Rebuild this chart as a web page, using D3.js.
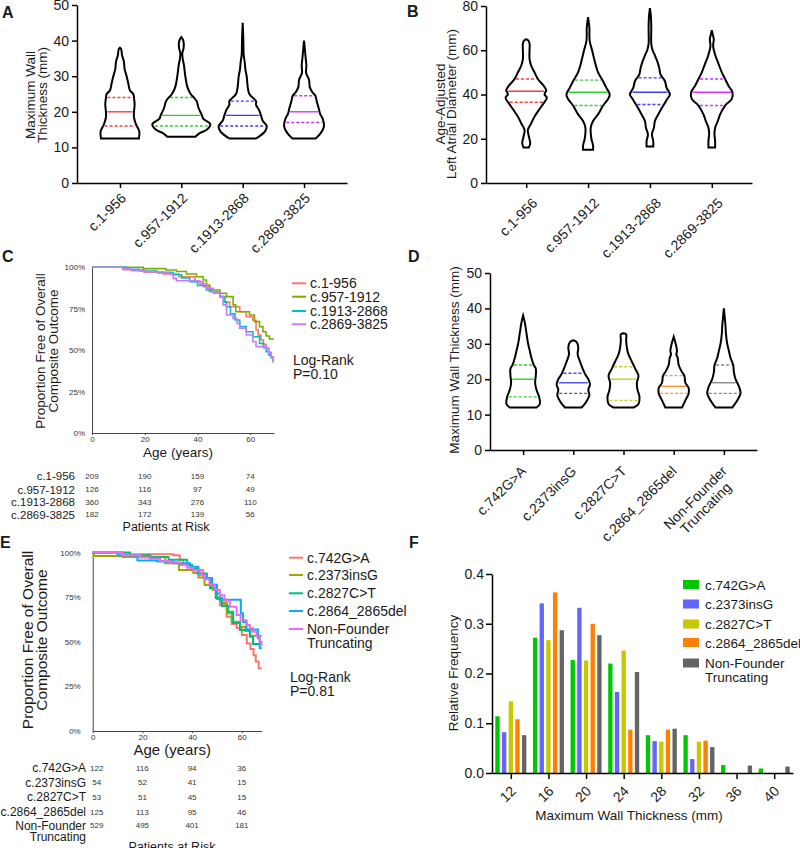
<!DOCTYPE html>
<meta charset="utf-8">
<style>
body { margin: 0; background: #fff; }
svg { display: block; font-family: Arial, "Liberation Sans", Helvetica, sans-serif; }
text { fill: #1a1a1a; }
.axis path, .axis line { stroke: #000; stroke-width: 1.5; }
.axis text { fill: #1a1a1a; }
.km path.domain, .km line { stroke: #444; stroke-width: 1; }
</style>
<body>
<svg width="800" height="848"></svg>
<script src="https://d3js.org/d3.v7.min.js"></script>
<script>

// ---- panels A / B : MYBPC3 region violins ----
var regionLabels = ["c.1-956", "c.957-1912", "c.1913-2868", "c.2869-3825"];
var regionColors = ["#ff3b3b", "#33cc33", "#3b3bff", "#cc33ff"];

// violin outlines: [value, half-width (density units)]
var mwtRegion = [
  [[12.5,57],[14.5,58],[16.5,48],[18.5,42],[20,42],[22,44],[24,42],[25,40],[26,30],[28,25],[30,20],[32,14],[34,12],[36,6],[37.5,4],[38,0]],
  [[13,42],[14,55],[15,77],[16.5,87],[18,66],[19,62],[21,52],[23,46],[24,38],[25,28],[27,18],[30,12],[33,8],[35,4],[36.5,3],[38,7],[40,6],[41,0]],
  [[12.5,40],[14.5,67],[16,72],[17.5,60],[19,55],[20.5,49],[22,40],[23,40],[25,20],[27,15],[30,12],[32,8],[34,6],[36,3],[40,2],[45,0]],
  [[12.5,35],[14,50],[16,60],[18,56],[19.5,48],[21,44],[23,38],[24.5,34],[25.5,25],[27,17],[29,15],[30,10],[31,6],[33,7],[35,5],[37,3],[40,0]]
];
var mwtRegionStats = [[16,20,24],[16,19,24],[16,19,23],[17,20,24.5]]; // q1, median, q3

var ladRegion = [
  [[16,8],[18,12],[21,8],[24,5],[27,15],[30,25],[33,38],[36,52],[38.5,62],[40,55],[42,60],[44,52],[47,35],[50,25],[53,15],[56,10],[60,10],[63,10],[64.5,6],[65,0]],
  [[15,15],[17,15],[20,10],[25,8],[28,15],[31,30],[35,45],[38,60],[40,65],[43,55],[46,45],[50,30],[55,20],[60,12],[64,5],[67,4],[70,4],[75,0]],
  [[16.5,10],[19,10],[22,6],[25,12],[28,15],[31,25],[35,40],[38,52],[40,60],[43,50],[46,45],[49,32],[52,28],[55,22],[58,14],[60,8],[63,4],[70,4],[75,3],[79,0]],
  [[16,10],[19,10],[22,8],[25,10],[28,18],[31,25],[35,40],[38,60],[41,62],[44,50],[47,40],[50,30],[54,20],[58,10],[62,4],[65,6],[67,3],[69,0]]
];
var ladRegionStats = [[36.5,41.5,47],[35,41,46.5],[35.5,41,47.5],[35,41,47]];

// ---- panel D : founder variant violins ----
var founderLabels = ["c.742G>A", "c.2373insG", "c.2827C>T", "c.2864_2865del", "Non-Founder\nTruncating"];
var founderViolinColors = ["#33cc33", "#4d4dff", "#cccc33", "#ff9933", "#888888"];
var mwtFounder = [
  [[12,40],[13,50],[15,48],[17,40],[19,36],[21,38],[23,38],[24,32],[26,25],[28,20],[30,15],[33,10],[36,5],[38,0]],
  [[12,25],[13.5,38],[15.5,48],[17,45],[18.5,50],[20,45],[21.5,35],[23,28],[25,20],[27,13],[29,15],[30.5,10],[31,0]],
  [[12,30],[13,45],[15,48],[17,42],[19,40],[21,45],[23,35],[25,25],[27,15],[29,10],[31,8],[32.7,8],[33,0]],
  [[12,25],[14,35],[16,45],[17.5,45],[19,35],[21,32],[22,25],[24,15],[26,12],[27,8],[28,10],[30,6],[32,0]],
  [[12,25],[14,40],[16,50],[18,45],[20,35],[22,30],[24,28],[26,20],[28,15],[30,10],[33,6],[35,5],[37,3],[40,0]]
];
var mwtFounderStats = [[15,20,24],[16,19,21.7],[14,20,23.5],[16,18,21],[16,19,24]];

// ---- panels C / E : Kaplan-Meier, [age, % event free] ----
var kmRegionColors = ["#f8766d", "#7cae00", "#00bfc4", "#c77cff"];
var kmRegion = [
  [[0,100],[12,98.5],[19.7,97],[27,96],[33,94.3],[39,91.3],[42.2,88.3],[44.5,85.3],[48.5,82.3],[50.5,79],[52.2,76.2],[56,73.2],[58.5,70.2],[61,68],[62.2,62.2],[63,59],[64.1,56.1],[65,53.5],[66,51.1],[67,48.5],[67.9,46],[68.6,43],[69,43]],
  [[0,100],[19.4,99.2],[28,98.4],[32,97.5],[35.8,96],[39.6,94.3],[42.2,92.3],[43.4,89.3],[44.7,86.3],[48.5,84.3],[51,82.3],[53.5,77.3],[54.5,73.2],[59.7,71.2],[61.6,67.2],[63.5,64.2],[64.8,61.1],[66,58.5],[67.3,56.7],[69,56.7]],
  [[0,100],[13,98.8],[18,97.8],[24.5,97],[30.8,95.5],[34,93.5],[37.1,91.3],[40,89],[43.4,86.3],[46,84.5],[48.5,82.3],[50,79],[51,76.2],[52.5,72],[54.2,68.2],[56,64.2],[58.5,61.1],[61,58.1],[63.5,54.1],[65,51.5],[66,49.1],[67,47],[67.9,45.4],[68.5,45.4]],
  [[0,100],[11.5,99],[15,98],[20,97.4],[25,96.5],[29.5,96],[30.8,93.3],[32,91.9],[40.9,90],[43.4,87.3],[46,85],[48.5,82.3],[49.7,77.3],[51,71.2],[53.5,69],[55,66],[56,63.2],[58.5,59.1],[61,55.1],[62.2,52.1],[66,51.1],[67,48.5],[67.9,46],[68.6,44],[69,44]]
];
var kmFounderColors = ["#f8766d", "#a3a500", "#00bf7d", "#00b0f6", "#e76bf3"];
var kmFounder = [
  [[0,100],[12,99],[32.5,98.5],[35,96],[36.5,93],[40,90],[44.5,85.7],[48,80],[50,75],[51.2,70.6],[53.9,64],[56,60],[57.9,57.7],[60,53.8],[62,49],[63.5,46],[64.7,42.5],[65.6,39],[66.8,35.1],[68,35.1]],
  [[0,100],[0.5,98],[12,97.5],[29.2,94],[34.7,90.2],[40.5,88.5],[42.5,86],[45,81.8],[48.4,79],[50,74],[52,71.7],[54,66],[55.9,61.2],[59.3,58.4],[61.5,56],[63.5,53.4],[68,53.4]],
  [[0,100],[15,98.5],[23.2,97.5],[30.5,96],[38,93],[40,91],[42.5,88.3],[45.9,85.7],[47.2,80],[49.5,74.5],[52,70],[54.5,66.8],[56.5,60.5],[59.2,56.6],[63.2,52.8],[64.5,48.7],[68,48.7]],
  [[0,100],[10,98.5],[18,95.5],[26,95],[32.5,94],[39.2,92],[42.5,88],[45.9,85.7],[48,82],[50,77],[51.2,73.5],[59.6,66],[60.5,61],[61.9,56.8],[66.5,52],[67.2,46.5],[68,46.5]],
  [[0,100],[12,98.5],[19.2,97.2],[23,96.5],[27.2,95.3],[31,94.5],[35.2,93],[38,91.5],[40.5,90],[43.2,87.4],[45,85],[47,82],[49,79],[51.2,76],[53,73],[55.2,69.6],[57.9,65],[59.5,62],[61.9,59.4],[63.2,57.5],[64.5,55.6],[66,53],[67.2,50],[67.9,48],[68.3,48]]
];

var riskAges = [0, 20, 40, 60];
var riskRegion = [[209,190,159,74],[126,116,97,49],[360,343,276,110],[182,172,139,56]];
var riskFounder = [[122,116,94,36],[54,52,41,15],[53,51,45,15],[125,113,95,46],[529,495,401,181]];

// ---- panel F : histogram of maximum wall thickness ----
var binCenters = [12, 16, 20, 24, 28, 32, 36, 40];
var histColors = ["#00c800", "#6464ff", "#c8c800", "#ff8000", "#646464"];
var histFreq = [
  [0.114, 0.272, 0.227, 0.220, 0.076, 0.076, 0.016, 0.009],
  [0.082, 0.341, 0.332, 0.163, 0.064, 0.028, 0, 0],
  [0.144, 0.267, 0.226, 0.246, 0.063, 0.063, 0, 0],
  [0.108, 0.363, 0.300, 0.087, 0.087, 0.065, 0, 0],
  [0.076, 0.287, 0.277, 0.203, 0.089, 0.052, 0.015, 0.013]
];

var svg = d3.select("svg");
var wScale = d3.scaleLinear().domain([0, 90]).range([0, 30]);

function widthAt(shape, v) {
  for (var i = 1; i < shape.length; i++) {
    if (v <= shape[i][0]) {
      var a = shape[i - 1], b = shape[i];
      return a[1] + (b[1] - a[1]) * (v - a[0]) / (b[0] - a[0]);
    }
  }
  return 0;
}

function panelLetter(t, x, y) {
  svg.append("text").attr("x", x).attr("y", y).style("font-size", "16px")
    .style("font-weight", "bold").text(t);
}

function rotatedLabel(g, text, x0, y0, size) {
  var lines = text.split("\n");
  var t = g.append("g").attr("transform", "translate(" + x0 + "," + y0 + ") rotate(-45)");
  var first = t.append("text").attr("text-anchor", "end").style("font-size", size + "px").text(lines[0]);
  if (lines.length > 1) {
    var L = first.node().getComputedTextLength();
    t.append("text").attr("text-anchor", "middle").attr("x", -L / 2).attr("y", size * 1.05)
      .style("font-size", size + "px").text(lines[1]);
  }
}

function yTitle(lines, xs, cy, size) {
  lines.forEach(function(l, i) {
    svg.append("text").attr("transform", "translate(" + xs[i] + "," + cy + ") rotate(-90)")
      .attr("text-anchor", "middle").style("font-size", size + "px").text(l);
  });
}

function violinPanel(p) {
  var g = svg.append("g");
  var y = d3.scaleLinear().domain(p.yDomain).range([p.bottom, p.top]);
  var x = d3.scalePoint().domain(p.cats).range([p.left, p.right]).padding(p.pad);

  g.append("g").attr("class", "axis").attr("transform", "translate(" + p.left + ",0)")
    .call(d3.axisLeft(y).tickValues(p.yTicks).tickSize(5).tickSizeOuter(0).tickPadding(3))
    .selectAll("text").style("font-size", "14px");
  g.append("g").attr("class", "axis").attr("transform", "translate(0," + p.bottom + ")")
    .call(d3.axisBottom(x).tickSize(5).tickSizeOuter(0).tickFormat(""));

  p.cats.forEach(function(c) { rotatedLabel(g, c, x(c) + p.labDx, p.bottom + p.labDy, 14); });

  p.shapes.forEach(function(shape, i) {
    var cx = x(p.cats[i]);
    var area = d3.area().curve(d3.curveCatmullRom)
      .y(function(d) { return y(d[0]); })
      .x0(function(d) { return cx - wScale(d[1]); })
      .x1(function(d) { return cx + wScale(d[1]); });
    p.stats[i].forEach(function(v, j) {
      var hw = wScale(widthAt(shape, v)) - 1.5;
      g.append("line").attr("x1", cx - hw).attr("x2", cx + hw)
        .attr("y1", y(v)).attr("y2", y(v))
        .attr("stroke", p.colors[i]).attr("stroke-width", 1.4)
        .attr("stroke-dasharray", j === 1 ? null : "3,2");
    });
    g.append("path").datum(shape).attr("d", area)
      .attr("fill", "none").attr("stroke", "#000").attr("stroke-width", 2);
  });
}

function kmPanel(p) {
  var g = svg.append("g");
  var x = d3.scaleLinear().domain([0, p.xMax]).range([p.left, p.right]);
  var y = d3.scaleLinear().domain([0, 100]).range([p.bottom, p.top]);

  var xa = g.append("g").attr("class", "axis km").attr("transform", "translate(0," + p.bottom + ")")
    .call(d3.axisBottom(x).tickValues(riskAges).tickSize(2).tickSizeOuter(0).tickPadding(1));
  xa.selectAll("text").style("font-size", "8px").style("fill", "#333");
  var ya = g.append("g").attr("class", "axis km").attr("transform", "translate(" + p.left + ",0)")
    .call(d3.axisLeft(y).tickValues([0, 25, 50, 75, 100]).tickSize(0).tickSizeOuter(0)
      .tickPadding(p.yPad).tickFormat(function(d) { return d + "%"; }));
  ya.selectAll("text").style("font-size", "8px").style("fill", "#333");

  var line = d3.line().curve(d3.curveStepAfter)
    .x(function(d) { return x(d[0]); }).y(function(d) { return y(d[1]); });
  p.series.forEach(function(s, i) {
    g.append("path").datum(s).attr("d", line).attr("fill", "none")
      .attr("stroke", p.colors[i]).attr("stroke-width", p.lw);
  });

  g.append("text").attr("x", (p.left + p.right) / 2 - 5).attr("y", p.xTitleY)
    .attr("text-anchor", "middle").style("font-size", p.xTitleSize + "px").text("Age (years)");

  // legend
  p.names.forEach(function(n, i) {
    var ly = p.legendY[i];
    g.append("line").attr("x1", p.legendX).attr("x2", p.legendX + 14).attr("y1", ly).attr("y2", ly)
      .attr("stroke", p.colors[i]).attr("stroke-width", 2);
    var lines = n.split("\n");
    lines.forEach(function(l, k) {
      g.append("text").attr("x", p.legendX + 18).attr("y", ly + 5 + k * 13.5)
        .style("font-size", "14px").text(l);
    });
  });
  g.append("text").attr("x", p.legendX + 1).attr("y", p.logY).style("font-size", "14px").text("Log-Rank");
  g.append("text").attr("x", p.legendX + 1).attr("y", p.logY + 14).style("font-size", "14px").text(p.pText);

  // patients at risk table
  p.names.forEach(function(n, i) {
    var ry = p.riskY[i];
    var lines = n.split("\n");
    lines.forEach(function(l, k) {
      g.append("text").attr("x", p.riskLabelX).attr("y", ry + 4.5 + k * 11.5).attr("text-anchor", "end")
        .style("font-size", p.riskSize + "px").text(l);
    });
    p.risk[i].forEach(function(v, j) {
      g.append("text").attr("x", x(riskAges[j]) + (j === 0 ? p.firstShift : 0)).attr("y", ry + 3)
        .attr("text-anchor", "middle").style("font-size", "8px").style("fill", "#333").text(v);
    });
  });
  g.append("text").attr("x", p.riskTitleX).attr("y", p.riskTitleY).attr("text-anchor", "middle")
    .style("font-size", "12.5px").text("Patients at Risk");
}

// ---------- A ----------
panelLetter("A", 2, 18);
yTitle(["Maximum Wall", "Thickness (mm)"], [35, 47], 95, 13.5);
violinPanel({
  left: 77, right: 347, top: 5, bottom: 183, pad: 0.7, labDx: 7, labDy: 16,
  yDomain: [0, 50], yTicks: [0, 10, 20, 30, 40, 50],
  cats: regionLabels, shapes: mwtRegion, stats: mwtRegionStats, colors: regionColors
});

// ---------- B ----------
panelLetter("B", 407, 17);
yTitle(["Age-Adjusted", "Left Atrial Diameter (mm)"], [445, 456], 104, 13.5);
violinPanel({
  left: 486, right: 752, top: 6, bottom: 183, pad: 0.65, labDx: 12, labDy: 21,
  yDomain: [0, 80], yTicks: [0, 20, 40, 60, 80],
  cats: regionLabels, shapes: ladRegion, stats: ladRegionStats, colors: regionColors
});

// ---------- C ----------
panelLetter("C", 2, 262);
yTitle(["Proportion Free of Overall", "Composite Outcome"], [45, 58], 351, 13.5);
kmPanel({
  left: 92, right: 274, top: 267.3, bottom: 433, xMax: 69, yPad: 7, lw: 1.6,
  series: kmRegion, colors: kmRegionColors, names: regionLabels,
  xTitleY: 457, xTitleSize: 13.5,
  legendX: 292, legendY: [283.3, 296.7, 311, 324.3], logY: 365, pText: "P=0.10",
  risk: riskRegion, riskY: [475.7, 489, 501.7, 514.3], riskLabelX: 75, riskSize: 11.5, firstShift: 0,
  riskTitleX: 166, riskTitleY: 531
});

// ---------- E ----------
panelLetter("E", 0, 548);
yTitle(["Proportion Free of Overall", "Composite Outcome"], [33, 47], 640, 15.5);
kmPanel({
  left: 92.7, right: 261.7, top: 552.5, bottom: 731, xMax: 68, yPad: 12, lw: 2,
  series: kmFounder, colors: kmFounderColors, names: founderLabels,
  xTitleY: 755, xTitleSize: 15,
  legendX: 289, legendY: [557.7, 575, 593.3, 611, 629], logY: 682, pText: "P=0.81",
  risk: riskFounder, riskY: [767.7, 782.3, 796.7, 811.7, 825], riskLabelX: 86, riskSize: 12, firstShift: 4,
  riskTitleX: 172, riskTitleY: 851
});

// ---------- D ----------
panelLetter("D", 408, 262);
yTitle(["Maximum Wall Thickness (mm)"], [459], 360, 13.5);
violinPanel({
  left: 490, right: 757, top: 273, bottom: 450, pad: 0.66, labDx: 4, labDy: 22,
  yDomain: [0, 50], yTicks: [0, 10, 20, 30, 40, 50],
  cats: founderLabels, shapes: mwtFounder, stats: mwtFounderStats, colors: founderViolinColors
});

// ---------- F ----------
panelLetter("F", 409, 548);
yTitle(["Relative Frequency"], [458], 673, 13.5);
(function() {
  var g = svg.append("g");
  var x = d3.scaleLinear().domain([10, 42]).range([492, 793]);
  var y = d3.scaleLinear().domain([0, 0.4]).range([773, 574]);
  var sub = d3.scaleBand().domain(d3.range(5)).range([-15.5, 15.5]).paddingInner(0.35);

  histFreq.forEach(function(vals, s) {
    g.selectAll(".bar" + s).data(vals).enter().append("rect")
      .attr("x", function(d, i) { return x(binCenters[i]) + sub(s); })
      .attr("y", function(d) { return y(d); })
      .attr("width", sub.bandwidth())
      .attr("height", function(d) { return 773 - y(d); })
      .attr("fill", histColors[s]);
  });

  g.append("g").attr("class", "axis").attr("transform", "translate(492,0)")
    .call(d3.axisLeft(y).tickValues([0, 0.1, 0.2, 0.3, 0.4]).tickFormat(d3.format(".1f"))
      .tickSize(6).tickSizeOuter(0).tickPadding(2))
    .selectAll("text").style("font-size", "14px");
  g.append("g").attr("class", "axis").attr("transform", "translate(0,773)")
    .call(d3.axisBottom(x).tickValues(binCenters).tickSize(6).tickSizeOuter(0).tickFormat(""));
  binCenters.forEach(function(t) { rotatedLabel(g, String(t), x(t) + 6, 792, 14); });

  g.append("text").attr("x", 629).attr("y", 820).attr("text-anchor", "middle")
    .style("font-size", "13.5px").text("Maximum Wall Thickness (mm)");

  var legY = [584.5, 604, 624, 642.5, 663];
  founderLabels.forEach(function(n, i) {
    g.append("rect").attr("x", 683).attr("y", legY[i] - 4.5).attr("width", 16).attr("height", 9)
      .attr("fill", histColors[i]);
    n.split("\n").forEach(function(l, k) {
      g.append("text").attr("x", 705).attr("y", legY[i] + 5 + k * 13.5)
        .style("font-size", "13.5px").text(l);
    });
  });
})();

</script>
